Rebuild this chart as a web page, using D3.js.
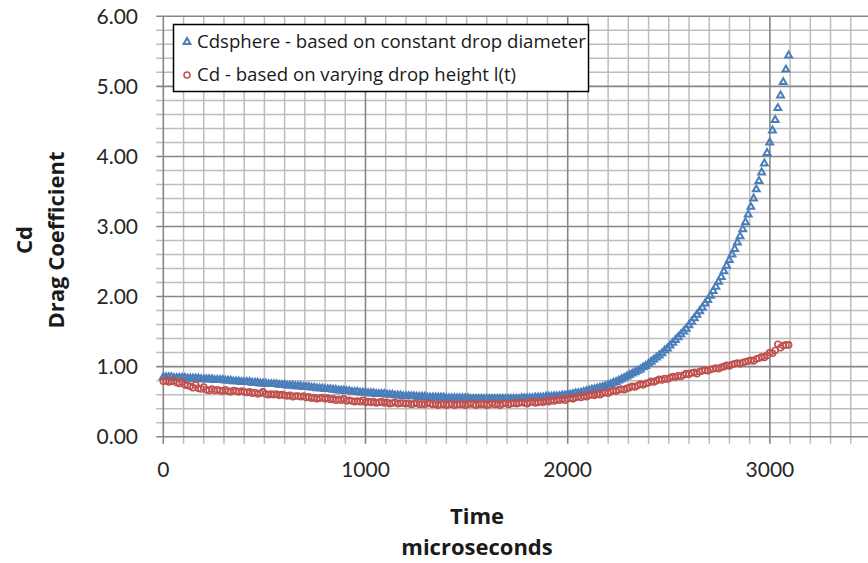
<!DOCTYPE html>
<html>
<head>
<meta charset="utf-8">
<script src="https://cdn.jsdelivr.net/npm/d3@7"></script>
<style>
  body { margin: 0; background: #fff; }
  svg { display: block; font-family: Lato, "Open Sans", sans-serif; }
</style>
</head>
<body>
<div id="chart"></div>
<script>
// frames were taken every 13.33 microseconds (75 000 fps)
const frameInterval = 13.33;

// Cd based on constant drop diameter (triangles)
const cdSphere = [
  0.85,0.85,0.85,0.85,0.84,0.84,0.84,0.84,0.84,0.83,0.83,
  0.83,0.83,0.83,0.82,0.82,0.82,0.82,0.82,0.81,0.81,
  0.81,0.81,0.80,0.80,0.80,0.79,0.79,0.79,0.78,0.78,
  0.78,0.78,0.77,0.77,0.77,0.76,0.76,0.76,0.75,0.75,
  0.75,0.75,0.74,0.74,0.74,0.73,0.73,0.73,0.72,0.72,
  0.72,0.71,0.71,0.71,0.70,0.70,0.69,0.69,0.69,0.68,
  0.68,0.68,0.67,0.67,0.66,0.66,0.66,0.65,0.65,0.64,
  0.64,0.64,0.63,0.63,0.63,0.62,0.62,0.62,0.61,0.61,
  0.61,0.61,0.60,0.60,0.60,0.59,0.59,0.59,0.58,0.58,
  0.58,0.58,0.58,0.57,0.57,0.57,0.57,0.56,0.56,0.56,
  0.56,0.56,0.56,0.56,0.55,0.55,0.55,0.55,0.55,0.55,
  0.55,0.55,0.55,0.54,0.54,0.54,0.54,0.54,0.54,0.54,
  0.54,0.54,0.54,0.54,0.54,0.54,0.54,0.54,0.54,0.54,
  0.54,0.54,0.55,0.55,0.55,0.55,0.55,0.56,0.56,0.56,
  0.56,0.57,0.57,0.57,0.58,0.58,0.58,0.59,0.59,0.60,
  0.60,0.61,0.62,0.62,0.63,0.64,0.65,0.66,0.67,0.68,
  0.69,0.70,0.71,0.72,0.74,0.75,0.77,0.78,0.80,0.82,
  0.84,0.86,0.88,0.90,0.92,0.94,0.96,0.99,1.01,1.04,
  1.07,1.10,1.13,1.16,1.19,1.23,1.26,1.30,1.34,1.38,
  1.42,1.46,1.50,1.54,1.59,1.64,1.69,1.74,1.79,1.84,
  1.90,1.95,2.01,2.08,2.14,2.21,2.28,2.36,2.44,2.52,
  2.60,2.68,2.77,2.86,2.96,3.06,3.17,3.28,3.40,3.53,
  3.65,3.77,3.90,4.05,4.20,4.37,4.52,4.69,4.87,5.06,5.24,5.44
];

// Cd based on varying drop height l(t) (circles)
const cdHeight = [
  0.79,0.80,0.78,0.79,0.80,0.77,0.76,0.78,0.74,0.73,0.72,
  0.70,0.74,0.69,0.68,0.71,0.67,0.66,0.68,0.66,0.67,
  0.66,0.65,0.67,0.65,0.64,0.66,0.65,0.64,0.65,0.64,
  0.63,0.64,0.62,0.63,0.61,0.62,0.64,0.61,0.60,0.61,
  0.60,0.61,0.59,0.60,0.59,0.58,0.59,0.57,0.58,0.58,
  0.57,0.58,0.56,0.57,0.55,0.56,0.54,0.55,0.56,0.54,
  0.55,0.53,0.54,0.52,0.53,0.52,0.54,0.51,0.52,0.51,
  0.50,0.51,0.50,0.52,0.49,0.50,0.49,0.50,0.48,0.49,
  0.50,0.48,0.49,0.47,0.48,0.49,0.47,0.48,0.48,0.47,
  0.48,0.46,0.47,0.48,0.46,0.47,0.46,0.48,0.47,0.46,
  0.47,0.45,0.46,0.47,0.45,0.46,0.47,0.45,0.46,0.46,
  0.47,0.45,0.46,0.48,0.46,0.45,0.47,0.46,0.47,0.45,
  0.46,0.48,0.46,0.47,0.45,0.47,0.48,0.46,0.47,0.48,
  0.47,0.48,0.49,0.48,0.47,0.49,0.50,0.48,0.49,0.50,
  0.49,0.51,0.50,0.52,0.51,0.53,0.52,0.54,0.52,0.54,
  0.55,0.54,0.56,0.57,0.56,0.58,0.57,0.59,0.60,0.59,
  0.61,0.60,0.62,0.63,0.62,0.64,0.66,0.65,0.67,0.68,
  0.67,0.69,0.70,0.72,0.71,0.73,0.75,0.74,0.76,0.77,
  0.79,0.78,0.80,0.82,0.81,0.83,0.82,0.84,0.86,0.85,
  0.87,0.86,0.88,0.90,0.89,0.91,0.92,0.90,0.93,0.94,
  0.95,0.94,0.96,0.97,0.98,0.97,0.99,1.00,1.02,1.01,
  1.03,1.04,1.05,1.04,1.06,1.07,1.08,1.09,1.08,1.11,
  1.12,1.14,1.13,1.16,1.20,1.19,1.23,1.32,1.27,1.30,1.31,1.31
];

const xTicks = [0, 1000, 2000, 3000];
const yTicks = [0, 1, 2, 3, 4, 5, 6];
const legendLabels = [
  "Cdsphere - based on constant drop diameter",
  "Cd - based on varying drop height l(t)"
];

const width = 868, height = 563;
const blue = '#4a7ebb', red = '#c0504d',
      minorGrid = '#bdbdbd', majorGrid = '#868686';

const x = d3.scaleLinear().domain([0, 3500]).range([163.3, 871]);
const y = d3.scaleLinear().domain([0, 6]).range([436.7, 16.3]);

const svg = d3.select('#chart').append('svg')
    .attr('width', width)
    .attr('height', height);

// minor grid: every 100 us and every 0.2
const xMinor = d3.range(0, 3501, 100);
const yMinor = d3.range(0, 31).map(d => d / 5);

svg.append('g').selectAll('line')
    .data(xMinor.filter(d => d % 1000 != 0))
    .enter().append('line')
    .attr('x1', d => x(d)).attr('x2', d => x(d))
    .attr('y1', y(6)).attr('y2', y(0) + 7)
    .attr('stroke', minorGrid).attr('stroke-width', 1.5);

svg.append('g').selectAll('line')
    .data(yMinor.filter((d, i) => i % 5 != 0))
    .enter().append('line')
    .attr('x1', x(0) - 7).attr('x2', width)
    .attr('y1', d => y(d)).attr('y2', d => y(d))
    .attr('stroke', minorGrid).attr('stroke-width', 1.5);

// major grid
svg.append('g').selectAll('line')
    .data(xTicks)
    .enter().append('line')
    .attr('x1', d => x(d)).attr('x2', d => x(d))
    .attr('y1', y(6)).attr('y2', y(0) + 7)
    .attr('stroke', majorGrid).attr('stroke-width', 1.6);

svg.append('g').selectAll('line')
    .data(yTicks)
    .enter().append('line')
    .attr('x1', x(0) - 7).attr('x2', width)
    .attr('y1', d => y(d)).attr('y2', d => y(d))
    .attr('stroke', majorGrid).attr('stroke-width', 1.6);

// tick labels
svg.append('g').selectAll('text')
    .data(yTicks)
    .enter().append('text')
    .attr('x', 138).attr('y', d => y(d))
    .attr('dy', '0.35em')
    .attr('text-anchor', 'end')
    .attr('font-size', 21).attr('fill', '#262626')
    .text(d3.format('.2f'));

svg.append('g').selectAll('text')
    .data(xTicks)
    .enter().append('text')
    .attr('x', d => x(d)).attr('y', 477)
    .attr('text-anchor', 'middle')
    .attr('font-size', 21).attr('fill', '#262626')
    .text(d => d);

// axis titles
const xTitle = svg.append('text')
    .attr('x', 477).attr('y', 524)
    .attr('text-anchor', 'middle')
    .attr('font-family', '"Open Sans", sans-serif')
    .attr('font-size', 22).attr('font-weight', 'bold').attr('fill', '#1a1a1a');
xTitle.append('tspan').attr('x', 477).text('Time');
xTitle.append('tspan').attr('x', 477).attr('dy', 31).text('microseconds');

const yTitle = svg.append('text')
    .attr('transform', 'translate(32,240) rotate(-90)')
    .attr('text-anchor', 'middle')
    .attr('font-family', '"Open Sans", sans-serif')
    .attr('font-size', 22).attr('font-weight', 'bold').attr('fill', '#1a1a1a');
yTitle.append('tspan').attr('x', 0).text('Cd');
yTitle.append('tspan').attr('x', 0).attr('dy', 32).text('Drag Coefficient');

// series
const tri = d3.symbol().type(d3.symbolTriangle).size(20);

svg.append('g').selectAll('path')
    .data(cdSphere)
    .enter().append('path')
    .attr('d', tri)
    .attr('transform', (d, i) => 'translate(' + x(i * frameInterval) + ',' + y(d) + ')')
    .attr('fill', 'none').attr('stroke', blue).attr('stroke-width', 2);

svg.append('g').selectAll('circle')
    .data(cdHeight)
    .enter().append('circle')
    .attr('cx', (d, i) => x(i * frameInterval))
    .attr('cy', d => y(d))
    .attr('r', 3)
    .attr('fill', 'none').attr('stroke', red).attr('stroke-width', 1.6);

// legend
const legend = svg.append('g');
legend.append('rect')
    .attr('x', 173.5).attr('y', 24.5)
    .attr('width', 415).attr('height', 67)
    .attr('fill', '#fff').attr('stroke', '#000').attr('stroke-width', 1.5);

legend.append('path')
    .attr('d', tri)
    .attr('transform', 'translate(187,42)')
    .attr('fill', 'none').attr('stroke', blue).attr('stroke-width', 2);
legend.append('circle')
    .attr('cx', 187).attr('cy', 75).attr('r', 3)
    .attr('fill', 'none').attr('stroke', red).attr('stroke-width', 1.6);

legend.selectAll('text.lbl')
    .data(legendLabels)
    .enter().append('text')
    .attr('class', 'lbl')
    .attr('x', 197).attr('y', (d, i) => 41 + i * 33)
    .attr('dy', '0.35em')
    .attr('font-family', '"Open Sans", sans-serif')
    .attr('font-size', 18.6).attr('fill', '#1a1a1a')
    .text(d => d);
</script>
</body>
</html>
